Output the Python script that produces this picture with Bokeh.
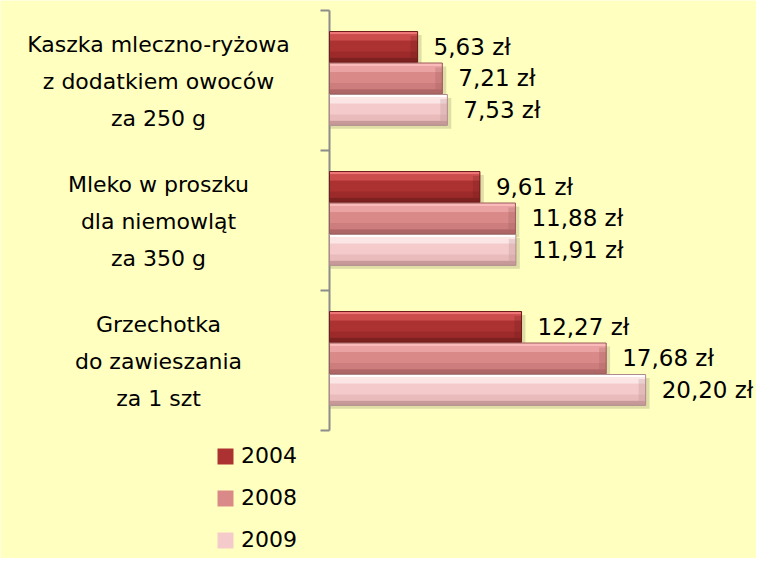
import numpy as np
from bokeh.plotting import figure
from bokeh.models import (ColumnDataSource, Range1d, LabelSet, Legend, LegendItem)
from bokeh.core.properties import value
from bokeh.embed import file_html
from bokeh.resources import INLINE

# ---- data ----
categories = ["Kaszka mleczno-ryżowa\nz dodatkiem owoców\nza 250 g",
              "Mleko w proszku\ndla niemowląt\nza 350 g",
              "Grzechotka\ndo zawieszania\nza 1 szt"]
years = ["2004", "2008", "2009"]
values_2004 = [5.63, 9.61, 12.27]
values_2008 = [7.21, 11.88, 17.68]
values_2009 = [7.53, 11.91, 20.20]
series = [values_2004, values_2008, values_2009]

# ---- styles ----
BG = "#FFFFC0"
FONT = "DejaVu Sans"
bands = {
    "2004": ["#EE7676", "#CC4C4C", "#AC3232", "#9C2A2A", "#7C2020"],
    "2008": ["#FBBABA", "#EAA2A2", "#DA8989", "#CD7D7D", "#AF6666"],
    "2009": ["#FFFFFF", "#FBE5E5", "#F4CACA", "#EABBBB", "#C79999"],
}
edge = {"2004": "#6E1C1C", "2008": "#9A5A5A", "2009": "#B08A8A"}
band_frac = [0.10, 0.20, 0.35, 0.20, 0.15]
AXIS_COLOR = "#8C8C8C"

W, H = 756, 558
ZERO_X = 329          # pixel position of value 0
TOP_Y = 10            # pixel position of the top category boundary
px_per_unit = 15.65   # pixels per zł
px_per_cat = 140      # pixels per category

x_start = -ZERO_X / px_per_unit
x_end = (W - ZERO_X) / px_per_unit
y_top = -TOP_Y / px_per_cat
y_bottom = (H - TOP_Y) / px_per_cat

p = figure(width=W, height=H, output_backend="svg", toolbar_location=None,
           x_range=Range1d(x_start, x_end), y_range=Range1d(y_bottom, y_top),
           x_axis_location=None, y_axis_location=None,
           min_border=0)
p.background_fill_color = BG
p.border_fill_color = BG
p.outline_line_color = None
p.grid.visible = False

n_cat = len(categories)
# category axis: vertical line at value 0 and ticks at category boundaries
p.segment(x0=[0], y0=[0], x1=[0], y1=[n_cat], line_color=AXIS_COLOR, line_width=2)
p.ray(x=[0] * (n_cat + 1), y=list(range(n_cat + 1)), length=9, length_units="screen",
      angle=np.pi, line_color=AXIS_COLOR, line_width=2)

bar_h = 0.22
step = 0.225
shift = -0.015

legend_items = []
for j, (yr, vals) in enumerate(zip(years, series)):
    ys = [i + 0.5 + (j - 1) * step + shift for i in range(n_cat)]
    # shadow
    sh = ColumnDataSource(dict(y=[y + 0.025 for y in ys], right=[v + 0.25 for v in vals]))
    p.hbar(y="y", left=0.05, right="right", height=bar_h, source=sh,
           fill_color="#6A6A4A", fill_alpha=0.22, line_color=None)
    # main bar
    src = ColumnDataSource(dict(y=ys, right=vals))
    main = p.hbar(y="y", left=0, right="right", height=bar_h, source=src,
                  fill_color=bands[yr][2], line_color=None)
    # gradient bands
    top = [y - bar_h / 2 for y in ys]
    acc = 0.0
    for k, frac in enumerate(band_frac):
        t = [tt + acc * bar_h for tt in top]
        b = [tt + (acc + frac) * bar_h for tt in top]
        bs = ColumnDataSource(dict(top=t, bottom=b, right=vals))
        p.quad(left=0, right="right", top="top", bottom="bottom", source=bs,
               fill_color=bands[yr][k], line_color=None)
        acc += frac
    # right bevel
    bv = ColumnDataSource(dict(y=ys, left=[v - 0.45 for v in vals], right=vals))
    p.hbar(y="y", left="left", right="right", height=bar_h * 0.7, source=bv,
           fill_color=edge[yr], fill_alpha=0.25, line_color=None)
    # outline
    p.hbar(y="y", left=0, right="right", height=bar_h, source=src,
           fill_color=None, line_color=edge[yr], line_width=1)
    # value labels
    lab = ColumnDataSource(dict(x=vals, y=ys,
                                t=[f"{v:.2f}".replace(".", ",") + " zł" for v in vals]))
    p.add_layout(LabelSet(x="x", y="y", text="t", source=lab, x_offset=16,
                          text_font=value(FONT), text_font_size=value("23px"),
                          text_baseline="middle", text_align="left",
                          text_color="black"))
    legend_items.append(LegendItem(label=yr, renderers=[main]))

# category labels (centered, multi-line), placed left of the axis
label_x = (158 - ZERO_X) / px_per_unit
line_gap = 37 / px_per_cat
cx, cy, ct = [], [], []
for i, cat in enumerate(categories):
    lines = cat.split("\n")
    n = len(lines)
    for k, ln in enumerate(lines):
        cx.append(label_x)
        cy.append(i + 0.5 + 0.005 + (k - (n - 1) / 2) * line_gap)
        ct.append(ln)
p.text(x=cx, y=cy, text=ct, text_align="center", text_baseline="middle",
       text_font=value(FONT), text_font_size=value("22px"), text_color="black")

legend = Legend(items=legend_items, location=(215, 6), orientation="vertical",
                padding=0, margin=0, spacing=17,
                glyph_width=20, glyph_height=20, label_height=20,
                label_standoff=6,
                label_text_font=FONT, label_text_font_size="22px",
                label_text_color="black",
                label_text_baseline="middle",
                border_line_alpha=0, background_fill_alpha=0)
p.add_layout(legend, "center")

open("out.html", "w").write(file_html(p, INLINE))
